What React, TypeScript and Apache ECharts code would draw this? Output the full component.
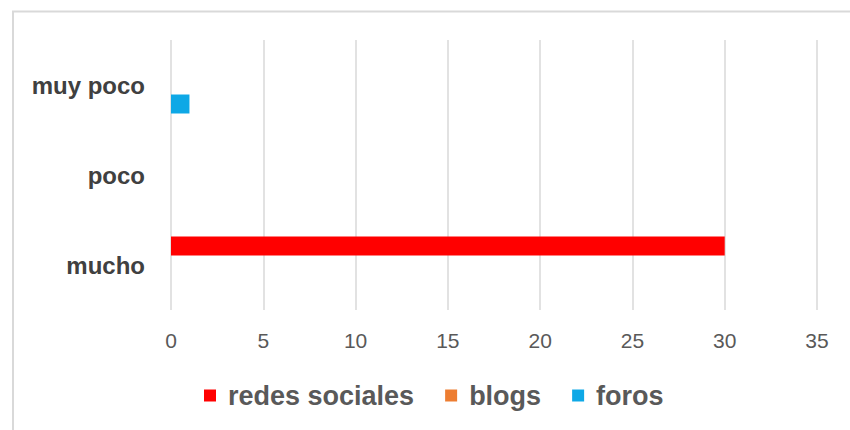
import React, { useEffect, useRef } from "react";
import * as echarts from "echarts";

const categories = ["mucho", "poco", "muy poco"];
const redesSociales = [30, 0, 0];
const blogs = [0, 0, 0];
const foros = [0, 0, 1];
const seriesNames = ["redes sociales", "blogs", "foros"];
const seriesColors = ["#ff0000", "#ed7d31", "#0ea8e6"];

export default function App() {
  const ref = useRef<HTMLDivElement>(null);
  useEffect(() => {
    if (!ref.current) return;
    const chart = echarts.init(ref.current, null, { renderer: "svg" });
    const values = [redesSociales, blogs, foros];
    chart.setOption({
      animation: false,
      backgroundColor: "#ffffff",
      grid: { left: 171, right: 33, top: 40, bottom: 120, containLabel: false },
      xAxis: {
        type: "value",
        min: 0,
        max: 35,
        interval: 5,
        axisLine: { show: false },
        axisTick: { show: false },
        splitLine: { show: true, lineStyle: { color: "#d9d9d9", width: 1.5 } },
        axisLabel: {
          margin: 20,
          fontFamily: "Liberation Sans",
          fontSize: 21,
          color: "#595959",
        },
      },
      yAxis: {
        type: "category",
        data: categories,
        axisLine: { show: false },
        axisTick: { show: false },
        splitLine: { show: false },
        axisLabel: {
          margin: 26,
          fontFamily: "Liberation Sans",
          fontWeight: "bold",
          fontSize: 24,
          color: "#404040",
        },
      },
      legend: {
        left: 199,
        top: 377,
        itemWidth: 12,
        itemHeight: 12,
        itemGap: 31,
        icon: "rect",
        data: seriesNames,
        textStyle: {
          fontFamily: "Liberation Sans",
          fontWeight: "bold",
          fontSize: 27,
          color: "#595959",
          padding: [0, 0, 0, 7],
        },
      },
      graphic: [
        {
          type: "polyline",
          shape: { points: [[13, 430], [13, 11.5], [850, 11.5]] },
          style: { stroke: "#d9d9d9", lineWidth: 2, fill: null },
          silent: true,
        },
      ],
      series: seriesNames.map((name, i) => ({
        name,
        type: "bar",
        data: values[i],
        barWidth: 19,
        barGap: "0%",
        itemStyle: { color: seriesColors[i] },
      })),
    });
    return () => chart.dispose();
  }, []);
  return (
    <div
      ref={ref}
      style={{ position: "fixed", left: 0, top: 0, width: 850, height: 430 }}
    />
  );
}
